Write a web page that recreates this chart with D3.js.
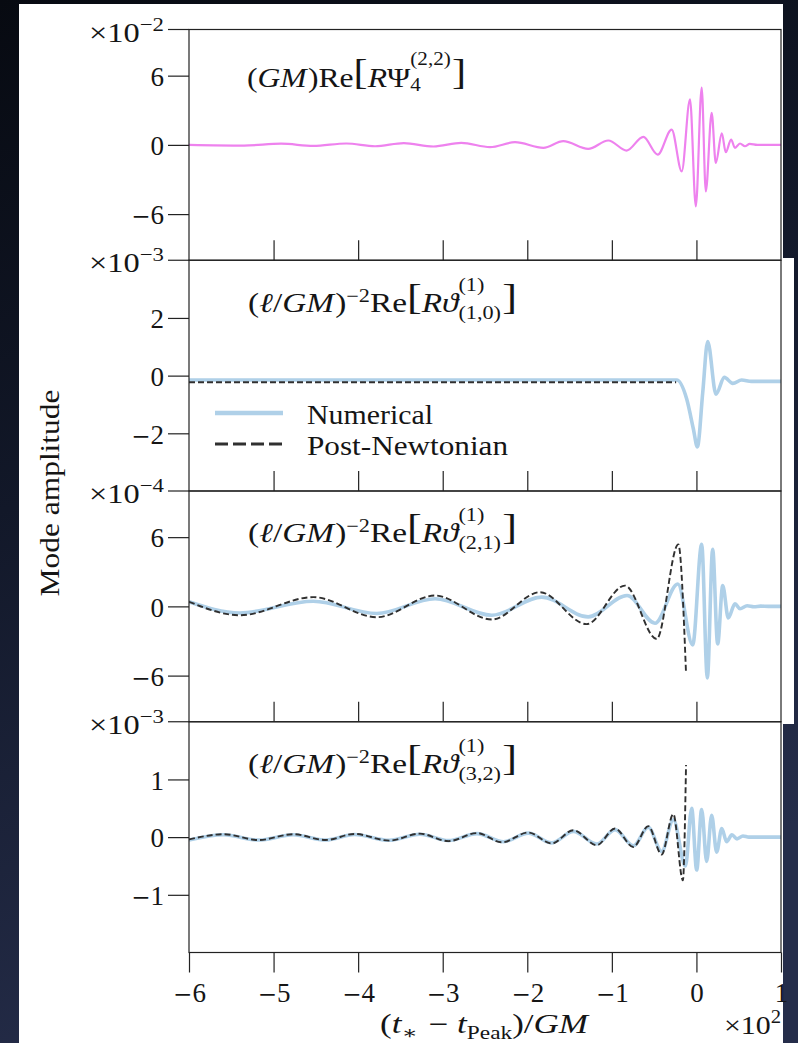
<!DOCTYPE html>
<html><head><meta charset="utf-8">
<script src="https://cdn.jsdelivr.net/npm/d3@7"></script>
<style>
html,body{margin:0;padding:0;background:#0d111c;overflow:hidden;}
svg{display:block;}
text{font-family:"Liberation Serif","Times New Roman","DejaVu Serif",serif;fill:#151515;}
</style></head><body>
<svg id="chart" width="798" height="1043"></svg>
<script>
// ---------------- data ----------------
const xTickValues = [-6, -5, -4, -3, -2, -1, 0, 1];
const xTickLabels = ["−6", "−5", "−4", "−3", "−2", "−1", "0", "1"];

// Panel 1: (GM) Re[R Psi4^(2,2)]  (x 1e-2)
const psi4T = [-6, -5.35, -4.91, -4.53, -4.14, -3.80, -3.46, -3.11, -2.78, -2.44, -2.145, -1.81, -1.574, -1.28, -1.042, -0.825, -0.628, -0.458, -0.293, -0.174, -0.076, -0.007, 0.062, 0.111, 0.18, 0.229, 0.30, 0.347, 0.41, 0.456, 0.515, 0.574, 0.63, 0.72, 1.0];
const psi4V = [0, -0.06, 0.10, -0.09, 0.12, -0.12, 0.15, -0.14, 0.17, -0.20, 0.23, -0.26, 0.32, -0.35, 0.38, -0.49, 0.70, -0.84, 1.33, -2.29, 3.94, -5.33, 4.96, -4.03, 2.78, -1.57, 0.99, -0.64, 0.46, -0.26, 0.12, -0.12, 0.09, 0, 0];

// Panel 2: theta (1,0)  (x 1e-3)
const th10NumT = [-6, -0.233, -0.115, -0.036, 0.011, 0.075, 0.133, 0.232, 0.33, 0.43, 0.535, 0.65, 1.0];
const th10NumV = [-0.15, -0.15, -0.81, -1.85, -2.47, -0.57, 1.18, -0.64, -0.06, -0.27, -0.15, -0.2, -0.2];
const th10PnT = [-6, -0.24];
const th10PnV = [-0.23, -0.23];

// Panel 3: theta (2,1)  (x 1e-4)
const th21NumT = [-6, -5.40, -4.53, -3.78, -3.09, -2.42, -1.83, -1.28, -0.82, -0.49, -0.22, -0.044, 0.062, 0.129, 0.192, 0.251, 0.311, 0.377, 0.456, 0.515, 0.60, 0.68, 0.76, 0.85, 1.0];
const th21NumV = [0.4, -0.57, 0.45, -0.62, 0.66, -0.77, 0.80, -0.91, 0.94, -1.46, 1.94, -3.34, 5.37, -6.2, 4.94, -3.26, 1.8, -1.0, 0.23, -0.2, 0.05, -0.03, 0.02, 0, 0];
const th21PnT = [-6, -5.40, -4.53, -3.78, -3.09, -2.42, -1.85, -1.30, -0.845, -0.47, -0.214, -0.123];
const th21PnV = [0.4, -0.77, 0.80, -0.94, 0.94, -1.14, 1.23, -1.54, 1.80, -2.83, 5.37, -5.8];

// Panel 4: theta (3,2)  (x 1e-3)
const th32NumT = [-6, -5.589, -5.179, -4.768, -4.382, -4.043, -3.633, -3.271, -2.932, -2.594, -2.28, -1.988, -1.711, -1.455, -1.179, -0.963, -0.746, -0.569, -0.411, -0.273, -0.13, -0.056, 0.003, 0.062, 0.121, 0.18, 0.239, 0.30, 0.357, 0.42, 0.48, 0.55, 0.62, 1.0];
const th32NumV = [-0.05, 0.04, -0.05, 0.04, -0.05, 0.045, -0.055, 0.05, -0.06, 0.06, -0.08, 0.07, -0.10, 0.10, -0.12, 0.13, -0.15, 0.17, -0.25, 0.30, -0.5, 0.5, -0.57, 0.48, -0.42, 0.38, -0.26, 0.15, -0.08, 0.04, -0.03, 0.02, 0, 0];
const th32PnT = [-6, -5.589, -5.179, -4.768, -4.382, -4.043, -3.633, -3.271, -2.932, -2.594, -2.30, -1.988, -1.711, -1.455, -1.179, -0.963, -0.746, -0.569, -0.411, -0.273, -0.16, -0.123];
const th32PnV = [-0.04, 0.05, -0.05, 0.05, -0.05, 0.055, -0.06, 0.06, -0.07, 0.07, -0.09, 0.08, -0.11, 0.12, -0.14, 0.15, -0.17, 0.19, -0.30, 0.40, -0.75, 1.25];

const yLimits = [[-10, 10], [-4, 4], [-10, 10], [-2, 2]];
const yTickValues = [[6, 0, -6], [2, 0, -2], [6, 0, -6], [1, 0, -1]];
const yTickLabels = [["6", "0", "−6"], ["2", "0", "−2"], ["6", "0", "−6"], ["1", "0", "−1"]];
const yExponents = ["−2", "−3", "−4", "−3"];
const legendLabels = ["Numerical", "Post-Newtonian"];
const xExponent = "2";

// ---------------- styles / layout ----------------
const W = 798, H = 1043;
const L = 189, R = 781, TOP = 29.5, PH = 230.75;
const numColor = "#afd0e8", pnColor = "#303030", psiColor = "#ee82ee", axColor = "#222";

const svg = d3.select("#chart");
const defs = svg.append("defs");
const bg = defs.append("linearGradient").attr("id", "bg").attr("x1", 0).attr("y1", 0).attr("x2", 0.3).attr("y2", 1);
bg.append("stop").attr("offset", "0").attr("stop-color", "#070a11");
bg.append("stop").attr("offset", "0.45").attr("stop-color", "#121829");
bg.append("stop").attr("offset", "1").attr("stop-color", "#252d4a");
svg.append("rect").attr("width", W).attr("height", H).attr("fill", "url(#bg)");
svg.append("path").attr("fill", "#fff")
  .attr("d", "M19,4 H783 V258 H794 V724 H783 V1043 H19 Z");

const x = d3.scaleLinear().domain([-6, 1]).range([L, R]);

const series = [
  [{t: psi4T, v: psi4V, kind: "psi"}],
  [{t: th10NumT, v: th10NumV, kind: "num"}, {t: th10PnT, v: th10PnV, kind: "pn"}],
  [{t: th21NumT, v: th21NumV, kind: "num"}, {t: th21PnT, v: th21PnV, kind: "pn"}],
  [{t: th32NumT, v: th32NumV, kind: "num"}, {t: th32PnT, v: th32PnV, kind: "pn"}]
];

function drawMath(parent, x0, y0, items, targetW) {
  const g = parent.append("g");
  let cx = x0;
  const put = (it, px) => {
    const t = g.append("text").attr("x", px).attr("y", y0 + (it.dy || 0))
      .attr("font-size", it.fs).attr("font-style", it.it ? "italic" : "normal")
      .attr("xml:space", "preserve").text(it.s);
    return t.node().getComputedTextLength();
  };
  items.forEach(it => {
    if (it.sup || it.sub) {
      let w = 0;
      if (it.sup) w = Math.max(w, put(it.sup, cx + (it.sup.dx || 0)) + (it.sup.dx || 0));
      if (it.sub) w = Math.max(w, put(it.sub, cx + (it.sub.dx || 0)) + (it.sub.dx || 0));
      cx += w + (it.gap || 0);
    } else {
      cx += put(it, cx + (it.dx || 0)) + (it.dx || 0) + (it.gap || 0);
    }
  });
  if (targetW) {
    const s = targetW / (cx - x0);
    g.attr("transform", `translate(${x0},0) scale(${s},1) translate(${-x0},0)`);
  }
  return g;
}

// label with a wide (TeX-like) minus sign
function setNumLabel(sel, str) {
  sel.text(null);
  if (str.startsWith("−")) {
    sel.append("tspan").style("font-family", '"DejaVu Serif",serif').attr("font-size", 23).text("−");
    sel.append("tspan").text(str.slice(1));
  } else sel.text(str);
}

const F = 27, S = 18, B = 36;
const titles = [
  [{s: "(", fs: F}, {s: "GM", fs: F, it: 1, gap: 1}, {s: ")Re", fs: F}, {s: "[", fs: B, dy: -3},
   {s: "R", fs: F, it: 1}, {s: "Ψ", fs: F}, {sup: {s: "(2,2)", fs: S, dy: -22}, sub: {s: "4", fs: S, dy: 4}, gap: 1}, {s: "]", fs: B, dy: -3}],
  "(1,0)", "(2,1)", "(3,2)"
];
function thetaTitle(idx) {
  return [{s: "(", fs: F}, {s: "ℓ", fs: F, it: 1}, {s: "/", fs: F}, {s: "GM", fs: F, it: 1, gap: 1}, {s: ")", fs: F},
    {sup: {s: "−2", fs: S, dy: -10}}, {s: "Re", fs: F}, {s: "[", fs: B, dy: -3}, {s: "R", fs: F, it: 1}, {s: "ϑ", fs: F, it: 1},
    {sup: {s: "(1)", fs: S, dy: -21}, sub: {s: idx, fs: S, dy: 7}, gap: 1}, {s: "]", fs: B, dy: -3}];
}

series.forEach((ser, i) => {
  const top = TOP + i * PH, bot = top + PH;
  const y = d3.scaleLinear().domain(yLimits[i]).range([bot, top]);
  const g = svg.append("g");
  const cid = "clip" + i;
  defs.append("clipPath").attr("id", cid).append("rect").attr("x", L).attr("y", top).attr("width", R - L).attr("height", PH);

  const line = d3.line().x(d => x(d[0])).y(d => y(d[1])).curve(d3.curveMonotoneX);
  const lg = g.append("g").attr("clip-path", `url(#${cid})`);
  ser.forEach(s => {
    const pts = s.t.map((t, k) => [t, s.v[k]]);
    const p = lg.append("path").datum(pts).attr("d", line).attr("fill", "none")
      .attr("stroke-linejoin", "round").attr("stroke-linecap", "butt");
    if (s.kind === "psi") p.attr("stroke", psiColor).attr("stroke-width", 2.2);
    if (s.kind === "num") p.attr("stroke", numColor).attr("stroke-width", 3.6);
    if (s.kind === "pn") p.attr("stroke", pnColor).attr("stroke-width", 1.9).attr("stroke-dasharray", "6,3");
  });

  // frame
  g.append("rect").attr("x", L).attr("y", top).attr("width", R - L).attr("height", PH)
    .attr("fill", "none").attr("stroke", axColor).attr("stroke-width", 1.2);

  // y axis
  const ya = d3.axisLeft(y).tickValues(yTickValues[i]).tickSize(21).tickPadding(4)
    .tickFormat((d, k) => yTickLabels[i][k]);
  const yg = g.append("g").attr("transform", `translate(${L},0)`).call(ya);
  yg.select(".domain").remove();
  yg.selectAll("line").attr("stroke", axColor).attr("stroke-width", 1.2);
  yg.selectAll("text").attr("font-size", 27).attr("dy", "0.36em")
    .style("font-family", '"Liberation Serif",serif').attr("fill", "#151515")
    .each(function(d, k) { setNumLabel(d3.select(this), yTickLabels[i][k]); });

  // top tick with multiplier
  g.append("line").attr("x1", L - 21).attr("x2", L).attr("y1", top).attr("y2", top)
    .attr("stroke", axColor).attr("stroke-width", 1.2);
  const mg = g.append("g").attr("transform", `translate(${L - 25},${top + 12}) scale(1.2,1)`);
  const mt = mg.append("text").attr("x", 0).attr("y", 0).attr("text-anchor", "end").attr("font-size", 27);
  mt.append("tspan").text("×10");
  mt.append("tspan").attr("dy", -11).attr("font-size", 19).text(yExponents[i]);

  // x axis
  if (i < 3) {
    const xa = d3.axisBottom(x).tickValues(xTickValues.slice(1, 7)).tickSize(-20).tickFormat("");
    const xg = g.append("g").attr("transform", `translate(0,${bot})`).call(xa);
    xg.select(".domain").remove();
    xg.selectAll("line").attr("stroke", axColor).attr("stroke-width", 1.2);
  } else {
    const xa = d3.axisBottom(x).tickValues(xTickValues).tickSize(20).tickPadding(10)
      .tickFormat((d, k) => xTickLabels[k]);
    const xg = g.append("g").attr("transform", `translate(0,${bot})`).call(xa);
    xg.select(".domain").remove();
    xg.selectAll("line").attr("stroke", axColor).attr("stroke-width", 1.2);
    xg.selectAll("text").attr("font-size", 27).style("font-family", '"Liberation Serif",serif').attr("fill", "#151515")
      .each(function(d, k) { setNumLabel(d3.select(this), xTickLabels[k]); });
  }

  // titles
  if (i === 0) drawMath(svg, 247, top + 57.5, titles[0], 219);
  else drawMath(svg, 248, top + 51.5, thetaTitle(titles[i]), 269);
});

// legend (panel 2)
const lgd = svg.append("g");
lgd.append("line").attr("x1", 215).attr("x2", 283).attr("y1", 413).attr("y2", 413)
  .attr("stroke", numColor).attr("stroke-width", 4.5);
lgd.append("line").attr("x1", 215).attr("x2", 283).attr("y1", 444).attr("y2", 444)
  .attr("stroke", pnColor).attr("stroke-width", 3).attr("stroke-dasharray", "13,5");
lgd.append("text").attr("x", 307).attr("y", 424).attr("font-size", 27)
  .attr("textLength", 126).attr("lengthAdjust", "spacingAndGlyphs").text(legendLabels[0]);
lgd.append("text").attr("x", 307).attr("y", 455).attr("font-size", 27)
  .attr("textLength", 201).attr("lengthAdjust", "spacingAndGlyphs").text(legendLabels[1]);

// y label
svg.append("text").attr("transform", "translate(59,493) rotate(-90)").attr("text-anchor", "middle")
  .attr("font-size", 27).attr("textLength", 207).attr("lengthAdjust", "spacingAndGlyphs").text("Mode amplitude");

// x label
drawMath(svg, 380, 1033, [
  {s: "(", fs: F}, {s: "t", fs: F, it: 1}, {sub: {s: "∗", fs: S, dy: 6}, gap: 2}, {s: "\u00A0−\u00A0", fs: F},
  {s: "t", fs: F, it: 1}, {sub: {s: "Peak", fs: S, dy: 6}}, {s: ")/", fs: F}, {s: "GM", fs: F, it: 1}
], 208);
const xmg = svg.append("g").attr("transform", "translate(781,1034) scale(1.15,1)");
const xm = xmg.append("text").attr("x", 0).attr("y", 0).attr("text-anchor", "end").attr("font-size", 26);
xm.append("tspan").text("×10");
xm.append("tspan").attr("dy", -11).attr("font-size", 18).text(xExponent);
</script>
</body></html>
